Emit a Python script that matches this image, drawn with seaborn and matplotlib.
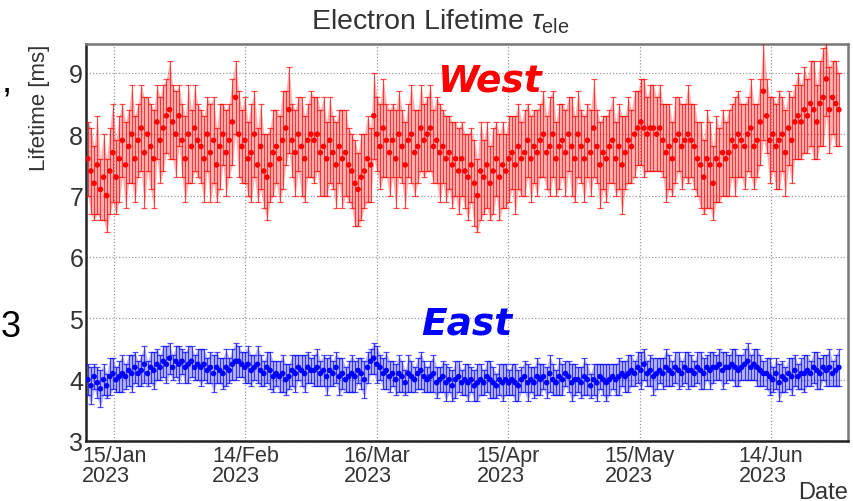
import matplotlib
matplotlib.use("Agg")
import matplotlib.pyplot as plt
import matplotlib.dates as mdates
from matplotlib.ticker import FixedLocator, MultipleLocator
import numpy as np
import pandas as pd
import seaborn as sns

# ---- measurements (one entry per run, runs evenly spread over the period) ----
run_start = "2023-01-09 00:00"
run_end = "2023-06-29 12:00"

west_lifetime = [
    7.6, 7.4, 7.2, 7.5, 7.1, 7.3, 7.0, 7.4, 7.7, 7.3, 7.6, 7.9,
    7.5, 7.8, 8.0, 7.6, 7.9, 8.1, 7.7, 8.0, 7.8, 7.6, 8.2, 7.9,
    8.1, 8.3, 8.4, 8.2, 8.0, 8.3, 7.9, 7.6, 8.0, 7.8, 8.1, 7.9,
    7.8, 7.6, 8.0, 7.7, 7.9, 7.5, 7.8, 8.0, 7.7, 7.9, 8.2, 8.6,
    8.0, 7.8, 7.9, 7.6, 7.7, 8.0, 7.5, 7.8, 7.4, 7.3, 7.5, 7.7,
    7.8, 7.6, 7.9, 8.1, 8.4, 7.9, 7.7, 8.0, 7.8, 7.6, 7.9, 8.0,
    7.9, 8.0, 7.7, 7.8, 7.6, 7.9, 7.7, 7.5, 7.8, 7.6, 7.7, 7.5,
    7.4, 7.2, 7.1, 7.3, 7.4, 7.6, 7.5, 8.3, 8.0, 7.8, 8.1, 7.9,
    7.7, 7.9, 7.6, 8.0, 7.8, 7.5, 7.9, 8.0, 7.7, 7.8, 8.1, 7.9,
    8.0, 8.1, 7.8, 7.9, 7.7, 7.8, 7.6, 7.7, 7.5, 7.6, 7.4, 7.6,
    7.4, 7.3, 7.5, 7.2, 7.0, 7.4, 7.3, 7.5, 7.2, 7.4, 7.6, 7.3,
    7.5, 7.4, 7.6, 7.7, 7.5, 7.8, 7.6, 7.7, 7.9, 7.6, 7.8, 7.7,
    7.9, 8.0, 7.7, 7.8, 8.0, 7.6, 7.8, 7.9, 7.7, 8.0, 7.8, 7.6,
    8.0, 7.8, 7.6, 7.9, 7.7, 8.1, 7.8, 7.5, 7.7, 7.6, 7.8, 7.9,
    7.6, 7.8, 7.5, 7.7, 7.9, 7.8, 8.0, 8.1, 8.2, 8.1, 8.0, 8.1,
    8.1, 8.0, 8.1, 7.9, 7.7, 7.8, 7.6, 7.9, 8.0, 7.8, 7.9, 8.0,
    7.9, 7.8, 7.6, 7.5, 7.3, 7.6, 7.5, 7.2, 7.6, 7.5, 7.7, 7.6,
    7.7, 7.9, 7.8, 8.0, 7.9, 7.8, 8.0, 8.1, 7.8, 7.9, 8.2, 8.7,
    8.3, 7.9, 8.0, 7.8, 7.9, 8.0, 7.7, 8.1, 7.9, 8.2, 8.3, 8.2,
    8.4, 8.3, 8.5, 8.4, 8.2, 8.5, 8.6, 8.9, 8.4, 8.6, 8.5, 8.4,
]
west_error = [
    0.6, 0.7, 0.6, 0.8, 0.5, 0.7, 0.6, 0.7, 0.8, 0.6, 0.7, 0.6,
    0.7, 0.6, 0.8, 0.7, 0.6, 0.7, 0.9, 0.6, 0.7, 0.8, 0.6, 0.7,
    0.7, 0.6, 0.8, 0.6, 0.7, 0.5, 0.6, 0.7, 0.8, 0.6, 0.7, 0.6,
    0.6, 0.7, 0.6, 0.8, 0.7, 0.6, 0.7, 0.5, 0.7, 0.6, 0.7, 0.6,
    0.7, 0.6, 0.7, 0.6, 0.8, 0.7, 0.6, 0.7, 0.6, 0.7, 0.6, 0.7,
    0.6, 0.7, 0.8, 0.6, 0.7, 0.6, 0.7, 0.6, 0.8, 0.7, 0.6, 0.7,
    0.7, 0.6, 0.7, 0.8, 0.6, 0.7, 0.6, 0.7, 0.6, 0.8, 0.7, 0.6,
    0.6, 0.7, 0.6, 0.7, 0.6, 0.7, 0.6, 0.7, 0.6, 0.7, 0.8, 0.6,
    0.7, 0.6, 0.8, 0.7, 0.6, 0.7, 0.6, 0.8, 0.7, 0.6, 0.7, 0.6,
    0.6, 0.7, 0.6, 0.7, 0.8, 0.6, 0.7, 0.6, 0.7, 0.6, 0.7, 0.6,
    0.6, 0.7, 0.6, 0.7, 0.6, 0.8, 0.6, 0.7, 0.6, 0.7, 0.6, 0.7,
    0.7, 0.6, 0.7, 0.6, 0.8, 0.7, 0.6, 0.7, 0.6, 0.7, 0.6, 0.7,
    0.6, 0.7, 0.6, 0.8, 0.7, 0.6, 0.7, 0.6, 0.7, 0.6, 0.8, 0.7,
    0.7, 0.6, 0.7, 0.6, 0.7, 0.8, 0.6, 0.7, 0.6, 0.7, 0.6, 0.7,
    0.6, 0.7, 0.8, 0.6, 0.7, 0.6, 0.7, 0.6, 0.7, 0.8, 0.6, 0.7,
    0.7, 0.6, 0.7, 0.6, 0.8, 0.7, 0.6, 0.7, 0.6, 0.7, 0.6, 0.8,
    0.6, 0.7, 0.6, 0.7, 0.6, 0.8, 0.7, 0.6, 0.7, 0.6, 0.7, 0.6,
    0.7, 0.6, 0.8, 0.7, 0.6, 0.7, 0.6, 0.8, 0.7, 0.6, 0.7, 0.8,
    0.6, 0.7, 0.6, 0.7, 0.8, 0.6, 0.7, 0.6, 0.7, 0.6, 0.7, 0.6,
    0.7, 0.6, 0.7, 0.8, 0.6, 0.7, 0.8, 0.6, 0.7, 0.6, 0.7, 0.6,
]
east_lifetime = [
    4.00, 3.90, 4.05, 3.95, 3.85, 4.00, 3.90, 4.05, 4.10, 4.00, 4.05, 4.10,
    4.05, 4.15, 4.10, 4.20, 4.10, 4.15, 4.25, 4.10, 4.20, 4.15, 4.25, 4.20,
    4.30, 4.25, 4.35, 4.20, 4.30, 4.25, 4.30, 4.20, 4.25, 4.30, 4.20, 4.25,
    4.20, 4.25, 4.15, 4.20, 4.10, 4.20, 4.15, 4.10, 4.20, 4.15, 4.25, 4.30,
    4.30, 4.25, 4.20, 4.25, 4.15, 4.20, 4.25, 4.15, 4.10, 4.20, 4.15, 4.05,
    4.10, 4.05, 4.10, 4.00, 4.05, 4.15, 4.10, 4.20, 4.15, 4.10, 4.20, 4.15,
    4.15, 4.20, 4.10, 4.15, 4.05, 4.15, 4.10, 4.20, 4.05, 4.10, 4.00, 4.05,
    4.10, 4.05, 4.15, 4.10, 4.00, 4.20, 4.30, 4.35, 4.25, 4.20, 4.10, 4.15,
    4.05, 4.10, 4.00, 4.10, 4.05, 3.95, 4.10, 4.05, 4.00, 4.10, 4.15, 4.05,
    4.00, 4.05, 4.10, 3.95, 4.00, 4.05, 3.95, 4.00, 3.90, 4.00, 4.05, 3.95,
    4.00, 3.95, 4.00, 3.90, 3.95, 4.00, 3.95, 4.05, 4.00, 3.95, 3.90, 4.00,
    3.95, 4.00, 3.95, 4.00, 3.95, 3.90, 4.00, 4.05, 3.95, 4.00, 3.95, 4.05,
    4.00, 4.05, 3.95, 4.10, 4.00, 3.95, 4.05, 4.00, 4.10, 4.05, 3.95, 4.00,
    4.00, 3.95, 4.05, 4.00, 3.90, 4.00, 3.95, 4.05, 4.00, 3.95, 4.00, 4.05,
    4.00, 4.05, 4.10, 4.05, 4.10, 4.15, 4.10, 4.20, 4.15, 4.25, 4.10, 4.15,
    4.05, 4.10, 4.15, 4.10, 4.20, 4.15, 4.10, 4.20, 4.15, 4.10, 4.20, 4.15,
    4.15, 4.10, 4.20, 4.15, 4.10, 4.20, 4.15, 4.20, 4.20, 4.25, 4.15, 4.20,
    4.20, 4.25, 4.20, 4.15, 4.20, 4.25, 4.30, 4.20, 4.25, 4.20, 4.15, 4.10,
    4.10, 4.05, 4.00, 4.10, 3.95, 4.05, 4.00, 4.10, 4.05, 4.15, 4.05, 4.10,
    4.10, 4.15, 4.10, 4.20, 4.15, 4.10, 4.20, 4.15, 4.20, 4.10, 4.15, 4.20,
]
east_error = [
    0.25, 0.30, 0.20, 0.25, 0.30, 0.25, 0.20, 0.30, 0.25, 0.20, 0.25, 0.30,
    0.20, 0.25, 0.30, 0.25, 0.20, 0.25, 0.30, 0.20, 0.25, 0.30, 0.25, 0.20,
    0.25, 0.30, 0.25, 0.20, 0.25, 0.30, 0.20, 0.25, 0.30, 0.25, 0.20, 0.25,
    0.30, 0.25, 0.20, 0.25, 0.30, 0.25, 0.20, 0.25, 0.30, 0.20, 0.25, 0.30,
    0.25, 0.20, 0.25, 0.30, 0.25, 0.20, 0.30, 0.25, 0.20, 0.25, 0.30, 0.25,
    0.20, 0.25, 0.30, 0.25, 0.20, 0.25, 0.30, 0.20, 0.25, 0.30, 0.25, 0.20,
    0.25, 0.30, 0.20, 0.25, 0.30, 0.25, 0.20, 0.25, 0.30, 0.25, 0.20, 0.25,
    0.30, 0.25, 0.20, 0.25, 0.30, 0.25, 0.20, 0.25, 0.30, 0.20, 0.25, 0.30,
    0.25, 0.20, 0.25, 0.30, 0.25, 0.20, 0.30, 0.25, 0.20, 0.25, 0.30, 0.25,
    0.20, 0.25, 0.30, 0.25, 0.20, 0.25, 0.30, 0.20, 0.25, 0.30, 0.25, 0.20,
    0.25, 0.30, 0.20, 0.25, 0.30, 0.25, 0.20, 0.25, 0.30, 0.25, 0.20, 0.25,
    0.30, 0.25, 0.20, 0.25, 0.30, 0.25, 0.20, 0.25, 0.30, 0.20, 0.25, 0.30,
    0.25, 0.20, 0.25, 0.30, 0.25, 0.20, 0.30, 0.25, 0.20, 0.25, 0.30, 0.25,
    0.20, 0.25, 0.30, 0.25, 0.20, 0.25, 0.30, 0.20, 0.25, 0.30, 0.25, 0.20,
    0.25, 0.30, 0.20, 0.25, 0.30, 0.25, 0.20, 0.25, 0.30, 0.25, 0.20, 0.25,
    0.30, 0.25, 0.20, 0.25, 0.30, 0.25, 0.20, 0.25, 0.30, 0.20, 0.25, 0.30,
    0.25, 0.20, 0.25, 0.30, 0.25, 0.20, 0.30, 0.25, 0.20, 0.25, 0.30, 0.25,
    0.20, 0.25, 0.30, 0.25, 0.20, 0.25, 0.30, 0.20, 0.25, 0.30, 0.25, 0.20,
    0.25, 0.30, 0.20, 0.25, 0.30, 0.25, 0.20, 0.25, 0.30, 0.25, 0.20, 0.25,
    0.30, 0.25, 0.20, 0.25, 0.30, 0.25, 0.20, 0.25, 0.30, 0.20, 0.25, 0.30,
]

major_dates = ["2023-01-15", "2023-02-14", "2023-03-16",
               "2023-04-15", "2023-05-15", "2023-06-14"]
major_labels = ["15/Jan\n2023", "14/Feb\n2023", "16/Mar\n2023",
                "15/Apr\n2023", "15/May\n2023", "14/Jun\n2023"]
y_ticks = [3, 4, 5, 6, 7, 8, 9]

# ---- style ----
sns.set_theme(style="white")
plt.rcParams["font.family"] = ["Liberation Sans", "DejaVu Sans"]
plt.rcParams["mathtext.fontset"] = "custom"
plt.rcParams["mathtext.rm"] = "Liberation Sans"
plt.rcParams["mathtext.it"] = "Liberation Sans:italic"

text_col = "#333333"
west_col = "#ff0000"
east_col = "#0000ff"

times = pd.date_range(run_start, run_end, periods=len(west_lifetime))
df = pd.concat([
    pd.DataFrame({"date": times, "lifetime": west_lifetime,
                  "err": west_error, "side": "West"}),
    pd.DataFrame({"date": times, "lifetime": east_lifetime,
                  "err": east_error, "side": "East"}),
], ignore_index=True)
palette = {"West": west_col, "East": east_col}

fig = plt.figure(figsize=(8.54, 5.02), dpi=100)
ax = fig.add_axes([86 / 854, 1 - 442 / 502, 762 / 854, 397 / 502])

for side, sub in df.groupby("side"):
    col = palette[side]
    lo = sub["lifetime"] - sub["err"]
    hi = sub["lifetime"] + sub["err"]
    ax.fill_between(sub["date"], lo, hi, color=col, alpha=0.3,
                    linewidth=0, zorder=2)
    ax.errorbar(sub["date"], sub["lifetime"], yerr=sub["err"], fmt="none",
                ecolor=col, elinewidth=0.8, capsize=2.2, capthick=0.9,
                alpha=0.7, zorder=3)

sns.scatterplot(data=df, x="date", y="lifetime", hue="side", palette=palette,
                s=16, linewidth=0, legend=False, ax=ax, zorder=4)

# ---- axes ----
ax.set_xlim(pd.Timestamp("2023-01-08 14:00"), pd.Timestamp("2023-07-01 14:00"))
ax.set_ylim(3, 9.47)

ax.xaxis.set_major_locator(FixedLocator(mdates.date2num(pd.to_datetime(major_dates))))
ax.set_xticklabels(major_labels)
minor_x = pd.date_range("2023-01-05", "2023-07-01", freq="10D")
ax.xaxis.set_minor_locator(FixedLocator(mdates.date2num(minor_x)))
ax.yaxis.set_major_locator(FixedLocator(y_ticks))
ax.yaxis.set_minor_locator(MultipleLocator(0.2))

ax.tick_params(axis="x", which="major", direction="in", length=8, width=1.4,
               colors="#222222", labelcolor=text_col, labelsize=15.5, pad=3)
ax.tick_params(axis="x", which="minor", direction="in", length=4.5, width=1.2,
               colors="#222222")
ax.tick_params(axis="y", which="major", direction="in", length=14, width=1.6,
               colors="#222222", labelcolor=text_col, labelsize=18, pad=2)
ax.tick_params(axis="y", which="minor", direction="in", length=6.5, width=1.3,
               colors="#222222")
for lbl in ax.get_xticklabels():
    lbl.set_multialignment("left")
    lbl.set_linespacing(0.95)

ax.grid(True, which="major", color="#9a9a9a", linestyle=(0, (1, 1.6)),
        linewidth=0.9, zorder=1)
ax.set_axisbelow(True)

for side in ("left", "bottom"):
    ax.spines[side].set_color("#222222")
    ax.spines[side].set_linewidth(1.8)
for side in ("top", "right"):
    ax.spines[side].set_color("#777777")
    ax.spines[side].set_linewidth(1.8)

ax.set_ylabel("Lifetime [ms]", loc="top", fontsize=16, color=text_col)
ax.yaxis.set_label_coords(-0.047, 1.0)
ax.set_xlabel("Date", loc="right", fontsize=17, color=text_col)
ax.xaxis.set_label_coords(1.0, -0.1)

fig.text(440 / 854, 1 - 22 / 502, r"Electron Lifetime $\tau_{\mathrm{ele}}$",
         ha="center", va="center", fontsize=20.5, color=text_col)

# side labels
ax.text(pd.Timestamp("2023-04-11"), 8.88, "West", color=west_col,
        fontsize=27, fontweight="bold", style="italic",
        family=["DejaVu Sans"], ha="center", va="center", zorder=6)
ax.text(pd.Timestamp("2023-04-05 12:00"), 4.92, "East", color=east_col,
        fontsize=27, fontweight="bold", style="italic",
        family=["DejaVu Sans"], ha="center", va="center", zorder=6)

# fragments of neighbouring slide text at the left margin
fig.text(3 / 854, 1 - 104 / 502, "\u2019", fontsize=26, color="black",
         ha="left", va="center")
fig.text(1 / 854, 1 - 328 / 502, "3", fontsize=26, color="black",
         ha="left", va="center")

fig.savefig("out.png", dpi=100, facecolor="white")
